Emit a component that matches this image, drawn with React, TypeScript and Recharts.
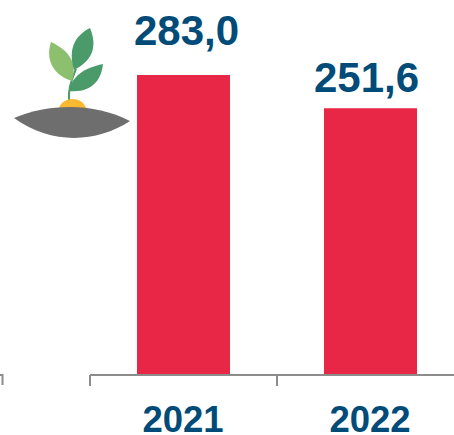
import { BarChart, Bar, XAxis, YAxis, LabelList } from 'recharts';

const years = ['2021', '2022'];
const values = [283.0, 251.6];

const BLUE = '#004b78';
const AXIS_GREY = '#8c8c8c';
const BAND = 187;

// the value labels do not sit centred over their bars
const labelShiftX = [3, -4];
const labelShiftY = [-30, -16];

const chartData = years.map((year, index) => ({ year, value: values[index] }));

const formatValue = (value: number) => value.toFixed(1).replace('.', ',');

// tick marks sit on the category boundaries, not under the bars
const YearTick = ({ x, y, payload }: any) => (
  <g>
    <line x1={x - BAND / 2} x2={x - BAND / 2} y1={y - 8} y2={y + 3} stroke={AXIS_GREY} strokeWidth={2} />
    <text x={x - 0.5} y={y + 49} textAnchor="middle" fill={BLUE} fontSize={36.5} fontWeight="bold" fontFamily="Liberation Sans">
      {payload.value}
    </text>
  </g>
);

const ValueLabel = ({ x, y, width, value, index }: any) => (
  <text
    x={x + width / 2 + labelShiftX[index]}
    y={y + labelShiftY[index]}
    textAnchor="middle"
    fill={BLUE}
    fontSize={42}
    fontWeight="bold"
    fontFamily="Liberation Sans"
  >
    {formatValue(value)}
  </text>
);

const SproutIcon = () => (
  <svg width={454} height={435} style={{ position: 'absolute', left: 0, top: 0 }}>
    <path d="M0 375 H2.5 V385" fill="none" stroke={AXIS_GREY} strokeWidth={2} />
    <path d="M69 100 C68 88 72 78 76 69" fill="none" stroke="#4a9a6a" strokeWidth={2} />
    <path d="M59 108 C63 96 82 96 86 108 Z" fill="#fbb931" />
    <path d="M14 118 C50 102.8 95 102.8 130 121 C95 144 50 144 14 118 Z" fill="#6e6e6e" />
    <path d="M72 81 C50 74 46 56 51 42 C68 50 78 62 72 81 Z" fill="#8cc06e" />
    <path d="M74 70 C68 50 74 36 90 28 C97 45 94 60 74 70 Z" fill="#4a9a6a" />
    <path d="M69 91 C72 76 84 68 103 64 C101 82 90 93 69 91 Z" fill="#4a9a6a" />
  </svg>
);

export default function App() {
  return (
    <div style={{ position: 'relative', width: 454, height: 435, overflow: 'hidden' }}>
      <style>{'body { margin: 0; }'}</style>
      <BarChart
        width={454}
        height={435}
        data={chartData}
        margin={{ top: 75, right: -10, bottom: 0, left: 90 }}
        barSize={93}
      >
        <YAxis hide domain={[0, 283]} />
        <XAxis
          dataKey="year"
          height={60}
          stroke={AXIS_GREY}
          strokeWidth={2}
          tickLine={false}
          tick={<YearTick />}
          interval={0}
        />
        <Bar dataKey="value" fill="#e82646" isAnimationActive={false}>
          <LabelList dataKey="value" content={<ValueLabel />} />
        </Bar>
      </BarChart>
      <SproutIcon />
    </div>
  );
}
